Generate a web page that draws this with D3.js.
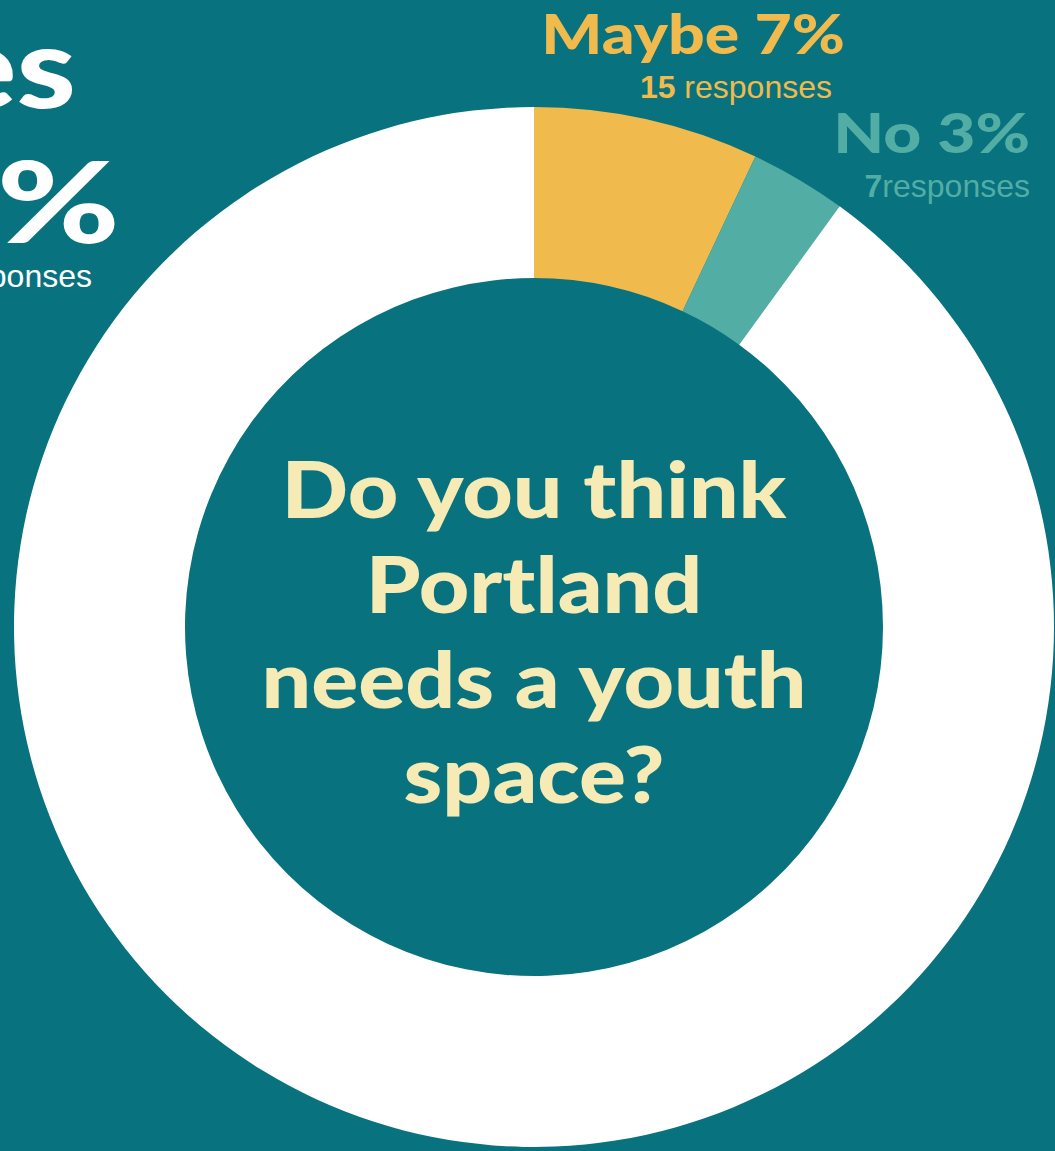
<!DOCTYPE html>
<html>
<head>
<meta charset="utf-8">
<script src="https://cdn.jsdelivr.net/npm/d3@7"></script>
<style>
  html, body { margin: 0; padding: 0; background: #08727e; overflow: hidden; }
  svg { display: block; }
  text { font-family: "Lato", "Open Sans", sans-serif; }
  .resp { font-family: "Liberation Sans", Arial, sans-serif; }
</style>
</head>
<body>
<div id="chart"></div>
<script>
// data
var categories = ["Maybe", "No", "Yes"];
var percents = [7, 3, 90];
var responses = [15, 7, 192];
var colors = ["#f0ba4d", "#52ada4", "#ffffff"];
var question = ["Do you think", "Portland", "needs a youth", "space?"];

var width = 1055, height = 1151;
var cx = 534, cy = 627;
var outerR = 520, innerR = 349;

var svg = d3.select("#chart").append("svg")
    .attr("width", width)
    .attr("height", height);

svg.append("rect")
    .attr("width", width)
    .attr("height", height)
    .attr("fill", "#08727e");

var pieData = categories.map(function (c, i) {
    return { name: c, pct: percents[i], n: responses[i], color: colors[i] };
});

var pie = d3.pie()
    .sort(null)
    .value(function (d) { return d.pct; });

var arc = d3.arc()
    .innerRadius(innerR)
    .outerRadius(outerR);

var g = svg.append("g")
    .attr("transform", "translate(" + cx + "," + cy + ")");

g.selectAll("path")
    .data(pie(pieData))
    .enter().append("path")
    .attr("d", arc)
    .attr("fill", function (d) { return d.data.color; });

// question in the middle (stretched a bit to look like the wide rounded font)
var q = g.append("text")
    .attr("text-anchor", "middle")
    .attr("transform", "scale(1.11,1)")
    .attr("fill", "#f6ebb5")
    .style("font-size", "79px")
    .style("font-weight", 900);
question.forEach(function (line, i) {
    q.append("tspan")
        .attr("x", 0)
        .attr("y", -109 + i * 95)
        .text(line);
});

// helper: end-anchored text, stretched horizontally from its right end
function bigText(x, y, size, sx, color, str) {
    return svg.append("text")
        .attr("transform", "translate(" + x + "," + y + ") scale(" + sx + ",1)")
        .attr("text-anchor", "end")
        .attr("fill", color)
        .style("font-size", size + "px")
        .style("font-weight", 900)
        .text(str);
}

function respText(x, y, color, n, gap) {
    var t = svg.append("text")
        .attr("class", "resp")
        .attr("x", x).attr("y", y)
        .attr("text-anchor", "end")
        .attr("fill", color)
        .style("font-size", "32px");
    t.append("tspan").style("font-weight", 700).text(n + gap);
    t.append("tspan").text("responses");
}

// label positions
var labelPos = {
    "Maybe": { x1: 845, y1: 54, x2: 832, y2: 98 },
    "No": { x1: 1030, y1: 153, x2: 1030, y2: 197 },
    "Yes": { x1: 76, y1: 108, x2: 92, y2: 287 }
};

pieData.forEach(function (d) {
    var p = labelPos[d.name];
    if (d.name === "Yes") {
        bigText(p.x1, p.y1, 112, 1.2, d.color, d.name);
        bigText(120, 243, 112, 1.33, d.color, d.pct + "%");
        respText(p.x2, p.y2, d.color, d.n, " ");
        return;
    }
    bigText(p.x1, p.y1, 55, d.name === "Maybe" ? 1.17 : 1.2, d.color, d.name + " " + d.pct + "%");
    respText(p.x2, p.y2, d.color, d.n, d.name === "No" ? "" : " ");
});
</script>
</body>
</html>
